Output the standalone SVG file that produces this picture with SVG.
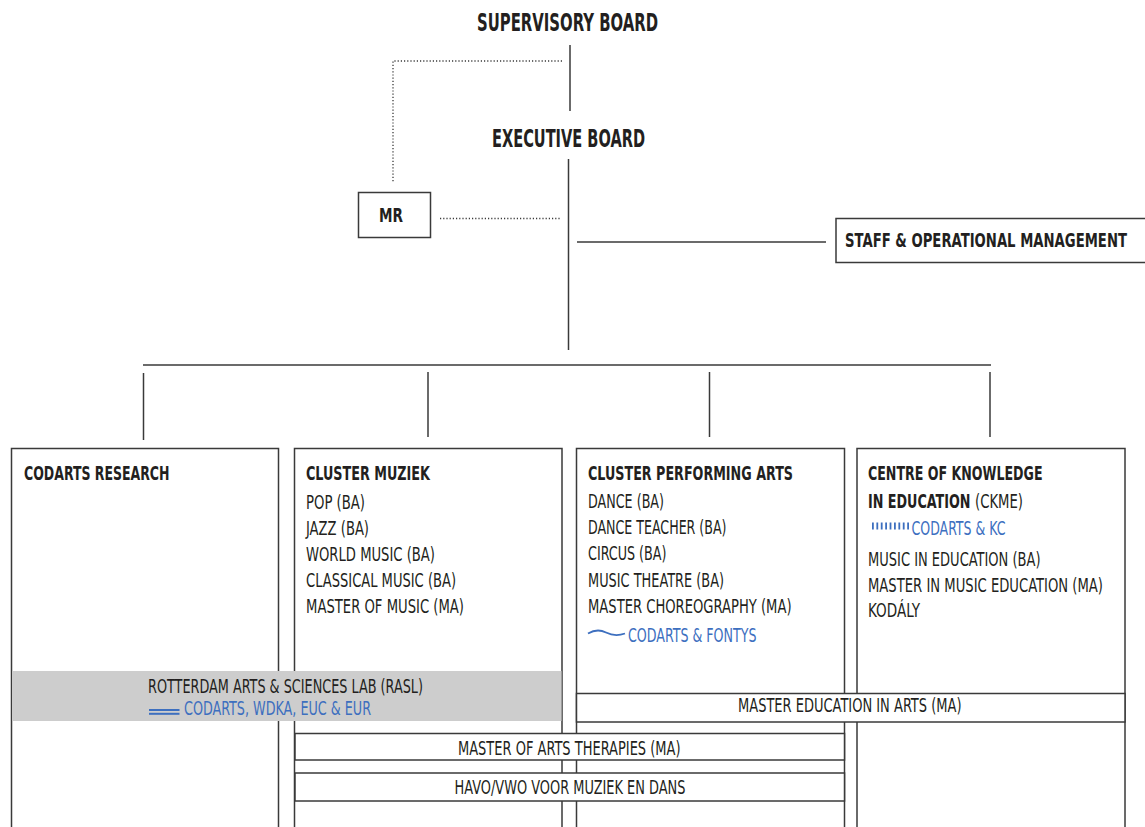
<svg xmlns="http://www.w3.org/2000/svg" width="1145" height="827" viewBox="0 0 1145 827">
<style>
  text { font-family: "Liberation Sans Narrow", "DejaVu Sans Condensed", "Liberation Sans", sans-serif; fill: #231f20; font-size: 20px; }
  .b { font-weight: bold; }
  .big { font-size: 24px; font-weight: bold; }
  .blue { fill: #3d6fbf; }
  .box { fill: #ffffff; stroke: #3a3a3a; stroke-width: 1.5; }
  .ln { stroke: #3a3a3a; stroke-width: 1.5; fill: none; }
  .dot { stroke: #3a3a3a; stroke-width: 1.3; stroke-dasharray: 1.2 2; fill: none; }
  .bl { stroke: #3d6fbf; fill: none; }
</style>
<rect width="1145" height="827" fill="#ffffff"/>

<g id="connectors">
  <line class="ln" x1="570" y1="45" x2="570" y2="111"/>
  <polyline class="dot" points="562,61 393,61 393,183"/>
  <line class="ln" x1="568.5" y1="159" x2="568.5" y2="350"/>
  <line class="dot" x1="440" y1="218.5" x2="560" y2="218.5"/>
  <line class="ln" x1="577" y1="242" x2="826" y2="242"/>
  <line class="ln" x1="143" y1="365" x2="991" y2="365"/>
  <line class="ln" x1="143.5" y1="373" x2="143.5" y2="440"/>
  <line class="ln" x1="428" y1="372" x2="428" y2="437"/>
  <line class="ln" x1="709.5" y1="372" x2="709.5" y2="437"/>
  <line class="ln" x1="990" y1="372" x2="990" y2="437"/>
</g>

<g id="supervisory-board">
  <text class="big" x="477" y="30.5" textLength="181" lengthAdjust="spacingAndGlyphs">SUPERVISORY BOARD</text>
</g>

<g id="executive-board">
  <text class="big" x="492" y="146.5" textLength="153" lengthAdjust="spacingAndGlyphs">EXECUTIVE BOARD</text>
</g>

<g id="mr">
  <rect class="box" x="358.5" y="192.5" width="72" height="45"/>
  <text class="b" x="379" y="222" textLength="24" lengthAdjust="spacingAndGlyphs">MR</text>
</g>

<g id="staff">
  <rect class="box" x="836" y="218.5" width="320" height="44"/>
  <text class="b" x="845" y="247" textLength="282" lengthAdjust="spacingAndGlyphs">STAFF &amp; OPERATIONAL MANAGEMENT</text>
</g>

<g id="codarts-research">
  <rect class="box" x="11.5" y="448.5" width="267" height="400"/>
  <text class="b" x="24" y="480" textLength="145.5" lengthAdjust="spacingAndGlyphs">CODARTS RESEARCH</text>
</g>

<g id="cluster-muziek">
  <rect class="box" x="294.5" y="448.5" width="267.5" height="400"/>
  <text class="b" x="306" y="480" textLength="124" lengthAdjust="spacingAndGlyphs">CLUSTER MUZIEK</text>
  <text x="306" y="508.5" textLength="59" lengthAdjust="spacingAndGlyphs">POP (BA)</text>
  <text x="306" y="534.5" textLength="63" lengthAdjust="spacingAndGlyphs">JAZZ (BA)</text>
  <text x="306" y="561" textLength="129" lengthAdjust="spacingAndGlyphs">WORLD MUSIC (BA)</text>
  <text x="306" y="587" textLength="150" lengthAdjust="spacingAndGlyphs">CLASSICAL MUSIC (BA)</text>
  <text x="306" y="613" textLength="158" lengthAdjust="spacingAndGlyphs">MASTER OF MUSIC (MA)</text>
</g>

<g id="cluster-performing-arts">
  <rect class="box" x="576.5" y="448.5" width="268" height="400"/>
  <text class="b" x="588" y="480" textLength="205" lengthAdjust="spacingAndGlyphs">CLUSTER PERFORMING ARTS</text>
  <text x="588" y="508" textLength="76" lengthAdjust="spacingAndGlyphs">DANCE (BA)</text>
  <text x="588" y="534" textLength="138.5" lengthAdjust="spacingAndGlyphs">DANCE TEACHER (BA)</text>
  <text x="588" y="560" textLength="78.5" lengthAdjust="spacingAndGlyphs">CIRCUS (BA)</text>
  <text x="588" y="587" textLength="136" lengthAdjust="spacingAndGlyphs">MUSIC THEATRE (BA)</text>
  <text x="588" y="613" textLength="203.5" lengthAdjust="spacingAndGlyphs">MASTER CHOREOGRAPHY (MA)</text>
  <path class="bl" stroke-width="1.8" d="M588,633.5 C594,630 600,629.5 606,632.5 C612,635.5 618,636 625,633.5"/>
  <text class="blue" x="628" y="641.5" textLength="128.5" lengthAdjust="spacingAndGlyphs">CODARTS &amp; FONTYS</text>
</g>

<g id="ckme">
  <rect class="box" x="857" y="448.5" width="268" height="400"/>
  <text class="b" x="868" y="480" textLength="174.5" lengthAdjust="spacingAndGlyphs">CENTRE OF KNOWLEDGE</text>
  <text x="868" y="508"><tspan class="b" textLength="102.5" lengthAdjust="spacingAndGlyphs">IN EDUCATION</tspan><tspan x="975" textLength="48" lengthAdjust="spacingAndGlyphs">(CKME)</tspan></text>
  <line class="bl" stroke-width="7" stroke-dasharray="1.8 2.6" x1="872" y1="526" x2="910" y2="526"/>
  <text class="blue" x="911.5" y="534.5" textLength="94" lengthAdjust="spacingAndGlyphs">CODARTS &amp; KC</text>
  <text x="868" y="566" textLength="172.5" lengthAdjust="spacingAndGlyphs">MUSIC IN EDUCATION (BA)</text>
  <text x="868" y="591.5" textLength="235" lengthAdjust="spacingAndGlyphs">MASTER IN MUSIC EDUCATION (MA)</text>
  <text x="868" y="617" textLength="52" lengthAdjust="spacingAndGlyphs">KODÁLY</text>
</g>

<g id="rasl">
  <rect x="12" y="671" width="549.5" height="50" fill="#cdcdcd"/>
  <text x="148" y="693" textLength="275" lengthAdjust="spacingAndGlyphs">ROTTERDAM ARTS &amp; SCIENCES LAB (RASL)</text>
  <line class="bl" stroke-width="2" x1="149" y1="710" x2="179.5" y2="710"/>
  <line class="bl" stroke-width="2" x1="149" y1="713.8" x2="179.5" y2="713.8"/>
  <text class="blue" x="184" y="715" textLength="187" lengthAdjust="spacingAndGlyphs">CODARTS, WDKA, EUC &amp; EUR</text>
</g>

<g id="master-education-in-arts">
  <rect class="box" x="576.5" y="693.5" width="548.5" height="28.5"/>
  <text x="738" y="712" textLength="223.5" lengthAdjust="spacingAndGlyphs">MASTER EDUCATION IN ARTS (MA)</text>
</g>

<g id="master-of-arts-therapies">
  <rect class="box" x="295" y="733.5" width="549.5" height="26.5"/>
  <text x="458" y="754.5" textLength="222.5" lengthAdjust="spacingAndGlyphs">MASTER OF ARTS THERAPIES (MA)</text>
</g>

<g id="havo-vwo">
  <rect class="box" x="295" y="773" width="549.5" height="28"/>
  <text x="454.5" y="793.5" textLength="231" lengthAdjust="spacingAndGlyphs">HAVO/VWO VOOR MUZIEK EN DANS</text>
</g>
</svg>
